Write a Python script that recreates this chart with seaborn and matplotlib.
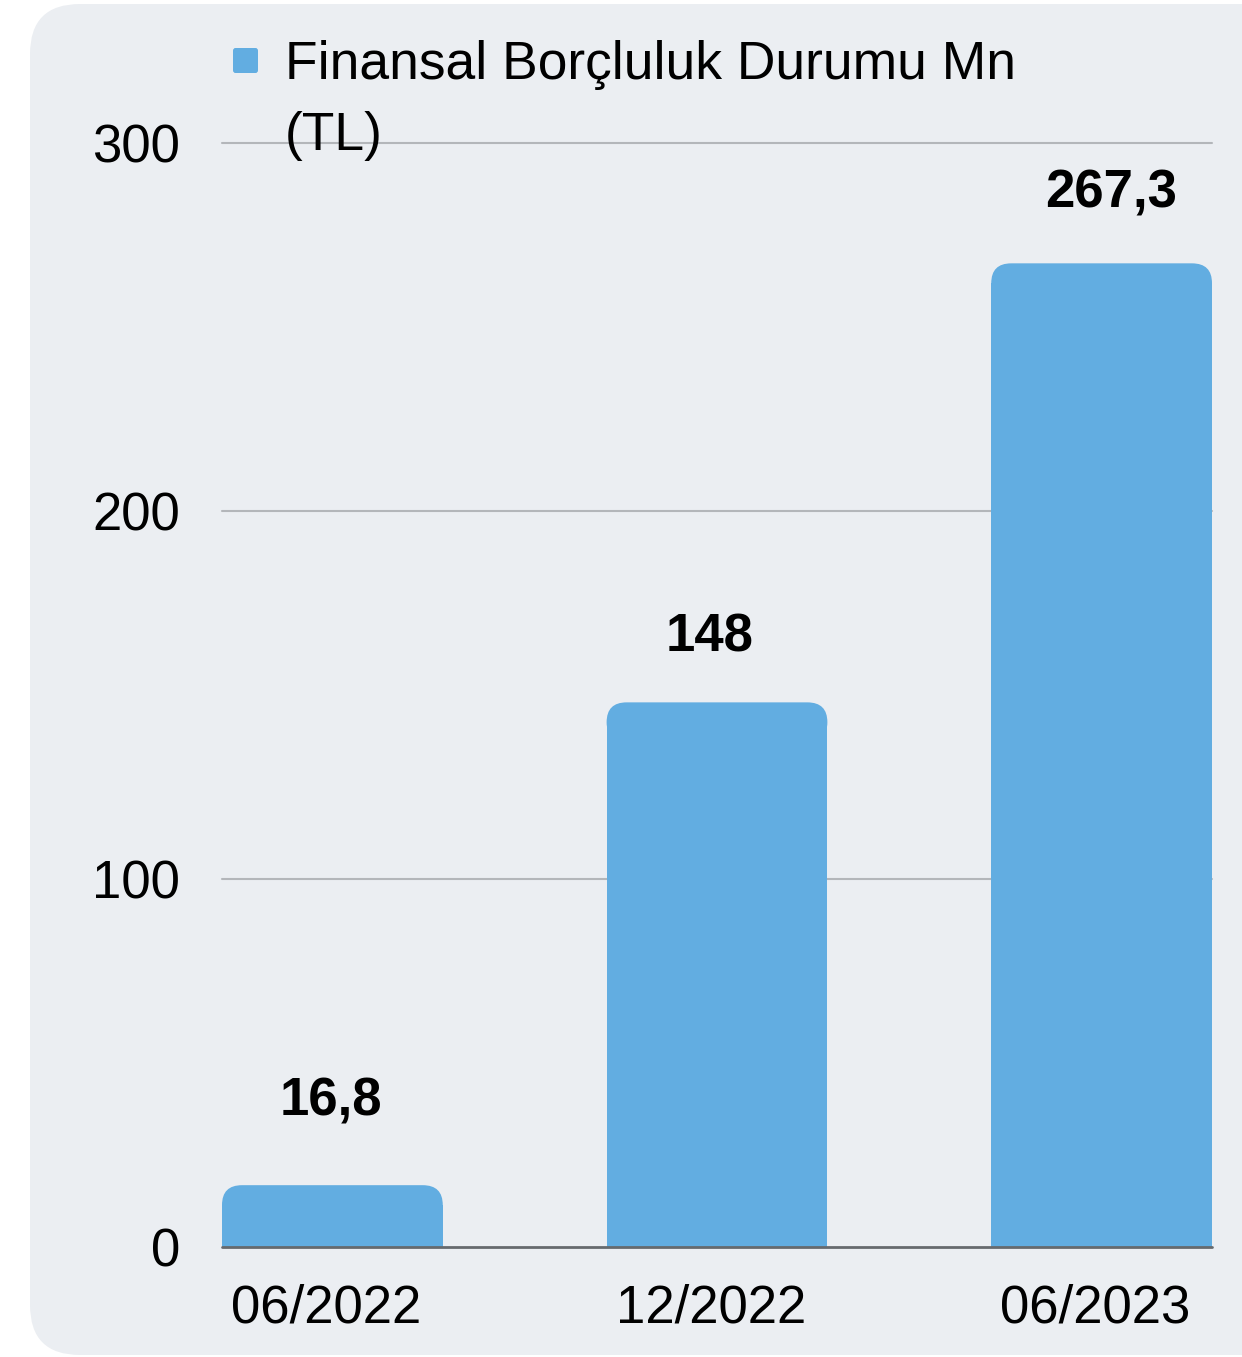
import matplotlib.pyplot as plt
import matplotlib.transforms as mtransforms
import seaborn as sns
from matplotlib.patches import FancyBboxPatch

periods = ["06/2022", "12/2022", "06/2023"]
debt = [16.8, 148, 267.3]
y_ticks = [0, 100, 200, 300]
series_name = "Finansal Borçluluk Durumu Mn"
series_unit = "(TL)"

bar_color = "#62ADE1"
bg_color = "#EBEEF2"

sns.set_style("white")
plt.rcParams["font.family"] = ["Liberation Sans", "DejaVu Sans"]

fig = plt.figure(figsize=(12.42, 13.57), dpi=100, facecolor="white")

# rounded grey card behind everything (right side runs off the image)
card = FancyBboxPatch((0.30, 0.02), 13.0, 13.51, boxstyle="round,pad=0,rounding_size=0.5",
                      transform=fig.dpi_scale_trans, facecolor=bg_color, edgecolor="none", zorder=-10)
fig.patches.append(card)

ax = fig.add_axes([222 / 1242, 110 / 1357, 990 / 1242, 1104 / 1357])
ax.set_facecolor("none")

sns.barplot(x=periods, y=debt, color=bar_color, width=0.574, saturation=1,
            linewidth=0, edgecolor="none", ax=ax, zorder=3)

ax.set_xlim(-0.287, 2.287)
ax.set_ylim(0, 300)
ax.set_yticks(y_ticks)
ax.set_yticklabels([str(t) for t in y_ticks])
ax.set(xlabel="", ylabel="")
for s in ax.spines.values():
    s.set_visible(False)
ax.tick_params(axis="y", length=0, pad=30, labelsize=38, colors="black")
ax.tick_params(axis="x", length=0, pad=26, labelsize=38, colors="black")

# category labels sit a little left of the bar centres in the original
shift = mtransforms.ScaledTranslation(-0.06, 0, fig.dpi_scale_trans)
for lbl in ax.get_xticklabels():
    lbl.set_transform(lbl.get_transform() + shift)

for t in y_ticks[1:]:
    ax.axhline(t, color="#B3B6BA", lw=1.5, zorder=1, clip_on=False)
ax.axhline(0, color="#666A6E", lw=2, zorder=4, clip_on=False)

# rounded tops on the bars
rx, ry = 0.052, 5.4
for p in list(ax.patches):
    x0, w, h = p.get_x(), p.get_width(), p.get_height()
    p.set_height(h - ry)
    top = FancyBboxPatch((x0, h - 2 * ry), w, 2 * ry, boxstyle=f"round,pad=0,rounding_size={rx}",
                         mutation_aspect=ry / rx, facecolor=bar_color, edgecolor="none",
                         linewidth=0, zorder=3)
    ax.add_patch(top)

label_offsets = [(-1, 60), (-5, 47), (7, 50)]
for i, v in enumerate(debt):
    ax.annotate(f"{v:g}".replace(".", ","), (i, v), xytext=label_offsets[i],
                textcoords="offset points", ha="center", va="center",
                fontsize=38, fontweight="bold", color="black", annotation_clip=False)

# legend drawn by hand so the wrapped label sits like the original
fig.patches.append(FancyBboxPatch((233 / 1242, (1357 - 73) / 1357), 25 / 1242, 25 / 1357,
                                  boxstyle="round,pad=0,rounding_size=0.002",
                                  transform=fig.transFigure, facecolor=bar_color, edgecolor="none", zorder=5))
fig.text(285 / 1242, (1357 - 79) / 1357, series_name, fontsize=38.4, va="baseline", ha="left", color="black")
fig.text(285 / 1242, (1357 - 150) / 1357, series_unit, fontsize=38.4, va="baseline", ha="left", color="black")

fig.savefig("out.png", dpi=100, facecolor="white")
